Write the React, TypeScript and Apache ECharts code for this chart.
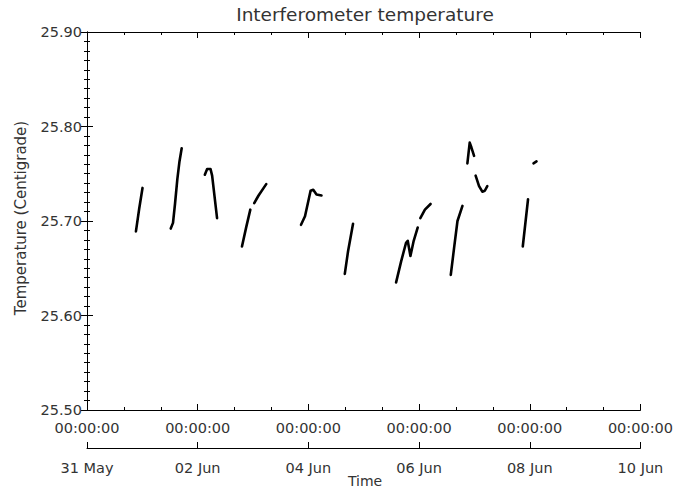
import React, { useEffect, useRef } from "react";
import * as echarts from "echarts";

// x values: days elapsed since 31 May 00:00:00; y values: temperature (Centigrade)
const seg1 = [[0.884, 25.689], [0.943, 25.713], [1.003, 25.735]];
const seg2 = [[1.513, 25.692], [1.554, 25.698], [1.59, 25.718], [1.632, 25.744], [1.671, 25.763], [1.711, 25.777]];
const seg3 = [[2.129, 25.749], [2.171, 25.755], [2.232, 25.755], [2.261, 25.748], [2.35, 25.703]];
const seg4a = [[2.8, 25.673], [2.875, 25.693], [2.951, 25.712]];
const seg4b = [[3.022, 25.719], [3.1, 25.727], [3.238, 25.739]];
const seg5 = [[3.867, 25.696], [3.939, 25.705], [4.04, 25.732], [4.088, 25.733], [4.147, 25.728], [4.237, 25.727]];
const seg6 = [[4.658, 25.644], [4.717, 25.668], [4.807, 25.697]];
const seg7a = [[5.585, 25.635], [5.675, 25.657], [5.765, 25.677], [5.795, 25.679], [5.844, 25.663], [5.903, 25.679], [5.975, 25.693]];
const seg7b = [[6.023, 25.703], [6.106, 25.712], [6.208, 25.718]];
const seg8 = [[6.573, 25.643], [6.634, 25.672], [6.694, 25.7], [6.784, 25.716]];
const seg9 = [[6.873, 25.761], [6.915, 25.783], [6.945, 25.778], [6.994, 25.769]];
const seg10 = [[7.022, 25.748], [7.084, 25.737], [7.143, 25.731], [7.188, 25.732], [7.233, 25.737]];
const seg11 = [[7.874, 25.673], [7.969, 25.723]];
const seg12 = [[8.068, 25.761], [8.122, 25.763]];

const segments = [seg1, seg2, seg3, seg4a, seg4b, seg5, seg6, seg7a, seg7b, seg8, seg9, seg10, seg11, seg12];

const dateLabels = ["31 May", "02 Jun", "04 Jun", "06 Jun", "08 Jun", "10 Jun"];
const timeLabel = "00:00:00";
const yMin = 25.5;
const yMax = 25.9;
const xMin = 0;
const xMax = 10;

const FONT = "DejaVu Sans";
const TXT = "#333";

export default function App() {
  const ref = useRef<HTMLDivElement>(null);
  useEffect(() => {
    if (!ref.current) return;
    const chart = echarts.init(ref.current, null, { renderer: "svg" });
    const axisLine = { show: true, lineStyle: { color: "#000", width: 1 } };
    const baseX = {
      type: "value",
      min: xMin,
      max: xMax,
      interval: 2,
      splitLine: { show: false },
      axisLine,
      axisTick: { show: true, inside: true, length: 6, lineStyle: { color: "#000" } },
      minorTick: { show: true, splitNumber: 3, length: 3, lineStyle: { color: "#000" } },
    };
    const baseY = {
      type: "value",
      min: yMin,
      max: yMax,
      interval: 0.1,
      splitLine: { show: false },
      axisLine,
      axisTick: { show: true, inside: true, length: 6, lineStyle: { color: "#000" } },
      minorTick: { show: true, splitNumber: 10, length: 3, lineStyle: { color: "#000" } },
    };
    chart.setOption({
      animation: false,
      backgroundColor: "#fff",
      grid: { left: 87, right: 32, top: 32, bottom: 80, containLabel: false },
      xAxis: [
        {
          ...baseX,
          position: "bottom",
          axisLabel: {
            show: true,
            formatter: () => timeLabel,
            margin: 10,
            fontFamily: FONT,
            fontSize: 14.5,
            color: TXT,
          },
        },
        {
          ...baseX,
          position: "top",
          axisLabel: { show: false },
        },
        {
          type: "value",
          min: xMin,
          max: xMax,
          interval: 2,
          position: "bottom",
          offset: 38,
          splitLine: { show: false },
          axisLine,
          axisTick: { show: true, inside: true, length: 6, lineStyle: { color: "#000" } },
          minorTick: { show: false },
          axisLabel: {
            show: true,
            formatter: (v: number) => dateLabels[Math.round(v / 2)] ?? "",
            margin: 12,
            fontFamily: FONT,
            fontSize: 14.5,
            color: TXT,
          },
        },
      ],
      yAxis: [
        {
          ...baseY,
          position: "left",
          axisLabel: {
            show: true,
            formatter: (v: number) => v.toFixed(2),
            margin: 5,
            fontFamily: FONT,
            fontSize: 14.5,
            color: TXT,
          },
        },
        {
          ...baseY,
          position: "right",
          axisLabel: { show: false },
        },
      ],
      graphic: [
        {
          type: "text",
          x: 365,
          y: 14,
          style: {
            text: "Interferometer temperature",
            align: "center",
            verticalAlign: "middle",
            font: `18.5px ${FONT}`,
            fill: TXT,
          },
        },
        {
          type: "text",
          x: 21,
          y: 218,
          rotation: Math.PI / 2,
          style: {
            text: "Temperature (Centigrade)",
            align: "center",
            verticalAlign: "middle",
            font: `15px ${FONT}`,
            fill: TXT,
          },
        },
        {
          type: "text",
          x: 365,
          y: 481,
          style: {
            text: "Time",
            align: "center",
            verticalAlign: "middle",
            font: `14px ${FONT}`,
            fill: TXT,
          },
        },
      ],
      series: segments.map((seg) => ({
        type: "line",
        xAxisIndex: 0,
        yAxisIndex: 0,
        data: seg,
        symbol: "none",
        silent: true,
        lineStyle: { color: "#000", width: 2.6, cap: "round", join: "round" },
      })),
    });
    return () => chart.dispose();
  }, []);
  return (
    <div
      ref={ref}
      style={{ position: "absolute", left: 0, top: 0, width: 676, height: 490, background: "#fff" }}
    />
  );
}
